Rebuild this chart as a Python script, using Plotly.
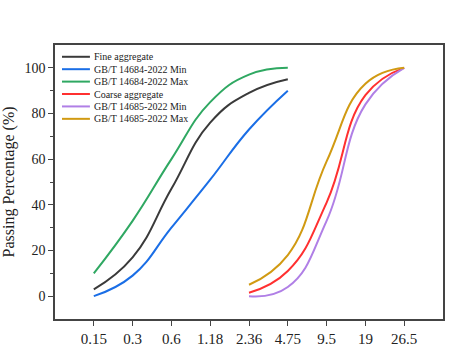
import plotly.graph_objects as go

# ---- data ----
sieve_labels = ["0.15", "0.3", "0.6", "1.18", "2.36", "4.75", "9.5", "19", "26.5"]
fine_sizes = ["0.15", "0.3", "0.6", "1.18", "2.36", "4.75"]
coarse_sizes = ["2.36", "4.75", "9.5", "19", "26.5"]

fine_aggregate = [3, 17, 47, 76, 89, 95]
fine_min = [0, 9, 30, 51, 73, 90]
fine_max = [10, 33, 60, 85, 97, 100]

coarse_aggregate = [1.5, 11, 41, 88, 100]
coarse_min = [0, 4, 33, 84, 100]
coarse_max = [5, 18, 59, 93, 100]

series = [
    ("Fine aggregate", fine_sizes, fine_aggregate, "#3a3a3a"),
    ("GB/T 14684-2022 Min", fine_sizes, fine_min, "#1a6ee6"),
    ("GB/T 14684-2022 Max", fine_sizes, fine_max, "#2fa862"),
    ("Coarse aggregate", coarse_sizes, coarse_aggregate, "#ff3030"),
    ("GB/T 14685-2022 Min", coarse_sizes, coarse_min, "#b07fe6"),
    ("GB/T 14685-2022 Max", coarse_sizes, coarse_max, "#d19a12"),
]

FONT = "Liberation Serif"

fig = go.Figure()
for name, xs, ys, color in series:
    fig.add_trace(go.Scatter(
        x=xs, y=ys, mode="lines", name=name,
        line=dict(color=color, width=2, shape="spline", smoothing=1.3),
        showlegend=False,
    ))

# compact legend (paper-space line samples + text, matching the tight row spacing)
leg_x0, leg_x1, leg_tx = 0.018, 0.09, 0.095
row_top, row_step = 0.957, 0.0453
for i, (name, xs, ys, color) in enumerate(series):
    yy = row_top - i * row_step
    fig.add_shape(type="line", xref="paper", yref="paper",
                  x0=leg_x0, x1=leg_x1, y0=yy, y1=yy,
                  line=dict(color=color, width=2))
    fig.add_annotation(xref="paper", yref="paper", x=leg_tx, y=yy,
                       text=name, showarrow=False, xanchor="left", yanchor="middle",
                       font=dict(family=FONT, size=10, color="#222"))

fig.update_layout(
    width=450, height=352,
    margin=dict(l=55, r=5, t=45, b=31),
    paper_bgcolor="white", plot_bgcolor="white",
    font=dict(family=FONT, color="#222"),
)
fig.update_xaxes(
    type="category", categoryorder="array", categoryarray=sieve_labels,
    range=[-1, 9], showgrid=False, zeroline=False,
    showline=True, linecolor="#444", linewidth=1.5, mirror=True,
    ticks="outside", ticklen=5, tickcolor="#444", tickwidth=1,
    tickfont=dict(family=FONT, size=15, color="#222"),
)
fig.update_yaxes(
    range=[-10, 110], tickvals=[0, 20, 40, 60, 80, 100],
    showgrid=False, zeroline=False,
    showline=True, linecolor="#444", linewidth=1.5, mirror=True,
    ticks="outside", ticklen=5, tickcolor="#444", tickwidth=1,
    minor=dict(tickvals=[10, 30, 50, 70, 90], ticks="outside", ticklen=3, tickcolor="#444"),
    tickfont=dict(family=FONT, size=14, color="#222"),
    title=dict(text="Passing Percentage (%)", font=dict(family=FONT, size=16, color="#222"), standoff=6),
)

fig.write_html("out.html")
